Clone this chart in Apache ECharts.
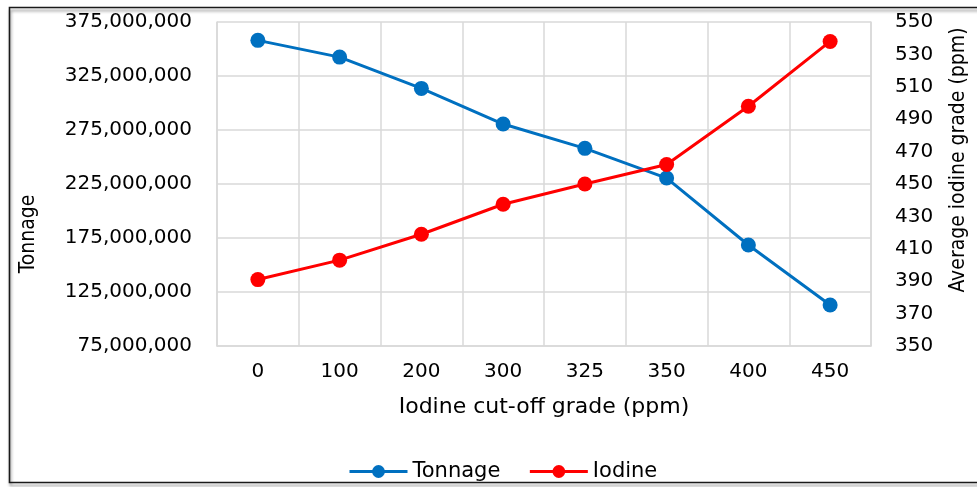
<!DOCTYPE html>
<html>
<head>
<meta charset="utf-8">
<script src="https://cdn.jsdelivr.net/npm/echarts@6/dist/echarts.min.js"></script>
<style>
html,body{margin:0;padding:0;background:#fff;}
#chart{width:977px;height:487px;}
</style>
</head>
<body>
<div id="chart"></div>
<script>
// ---- data ----
var categories = ['0', '100', '200', '300', '325', '350', '400', '450'];
var tonnage = [358000000, 342500000, 313500000, 280500000, 258000000, 230500000, 168500000, 113000000];
var iodine = [391, 403, 419, 437.5, 450, 462, 498, 538];
var leftTickLabels = ['75,000,000', '125,000,000', '175,000,000', '225,000,000', '275,000,000', '325,000,000', '375,000,000'];
var rightTickLabels = ['350', '370', '390', '410', '430', '450', '470', '490', '510', '530', '550'];
var leftRange = [75000000, 375000000];
var rightRange = [350, 550];

var FONT = 'DejaVu Sans';
var NARROW = '"DejaVu Sans Condensed", "DejaVu Sans"';
var GRID = '#d9d9d9';
var chart = echarts.init(document.getElementById('chart'));
chart.setOption({
  animation: false,
  backgroundColor: '#fff',
  graphic: [{
    type: 'rect',
    shape: { x: 9.5, y: 7.5, width: 1000, height: 475 },
    style: { fill: 'rgba(0,0,0,0)', stroke: '#1a1a1a', lineWidth: 1.6,
      shadowColor: 'rgba(0,0,0,0.45)', shadowBlur: 3, shadowOffsetX: 1, shadowOffsetY: 3 },
    silent: true, z: -10
  }],
  grid: { left: 217, right: 104, top: 22, bottom: 141, containLabel: false },
  legend: {
    top: 456, left: 343, itemWidth: 58, itemHeight: 16, itemGap: 28,
    lineStyle: { width: 3 },
    textStyle: { fontFamily: FONT, fontSize: 21, color: '#000' },
    data: ['Tonnage', 'Iodine']
  },
  xAxis: {
    type: 'category', data: categories, boundaryGap: true,
    name: 'Iodine cut-off grade (ppm)', nameLocation: 'middle', nameGap: 50,
    nameTextStyle: { fontFamily: FONT, fontSize: 22, color: '#000' },
    axisLine: { show: true, lineStyle: { color: GRID, width: 1.5 } },
    axisTick: { show: false },
    axisLabel: { margin: 16, fontFamily: FONT, fontSize: 20, color: '#000' },
    splitLine: { show: true, lineStyle: { color: GRID, width: 1.5 } }
  },
  yAxis: [{
    type: 'category', data: leftTickLabels, boundaryGap: false, position: 'left',
    name: 'Tonnage', nameLocation: 'middle', nameGap: 178,
    nameTextStyle: { fontFamily: NARROW, fontSize: 21, color: '#000', padding: [0, 100, 0, 0] },
    axisLine: { show: true, lineStyle: { color: GRID, width: 1.5 } },
    axisTick: { show: false },
    axisLabel: { margin: 25, fontFamily: FONT, fontSize: 20, color: '#000' },
    splitLine: { show: true, lineStyle: { color: GRID, width: 1.5 } }
  }, {
    type: 'value', position: 'left', min: leftRange[0], max: leftRange[1], show: false,
    splitLine: { show: false }
  }, {
    type: 'category', data: rightTickLabels, boundaryGap: false, position: 'right',
    name: 'Average iodine grade (ppm)', nameLocation: 'middle', nameGap: 77,
    nameTextStyle: { fontFamily: NARROW, fontSize: 21, color: '#000', padding: [0, 0, 0, 48] },
    axisLine: { show: true, lineStyle: { color: GRID, width: 1.5 } },
    axisTick: { show: false },
    axisLabel: { margin: 24, fontFamily: FONT, fontSize: 20, color: '#000' },
    splitLine: { show: false }
  }, {
    type: 'value', position: 'right', min: rightRange[0], max: rightRange[1], show: false,
    splitLine: { show: false }
  }],
  series: [{
    name: 'Tonnage', type: 'line', yAxisIndex: 1, data: tonnage,
    symbol: 'circle', symbolSize: 15, color: '#0070C0',
    lineStyle: { width: 3, color: '#0070C0' }, itemStyle: { color: '#0070C0' }
  }, {
    name: 'Iodine', type: 'line', yAxisIndex: 3, data: iodine,
    symbol: 'circle', symbolSize: 15, color: '#FF0000',
    lineStyle: { width: 3, color: '#FF0000' }, itemStyle: { color: '#FF0000' }
  }]
});
</script>
</body>
</html>
